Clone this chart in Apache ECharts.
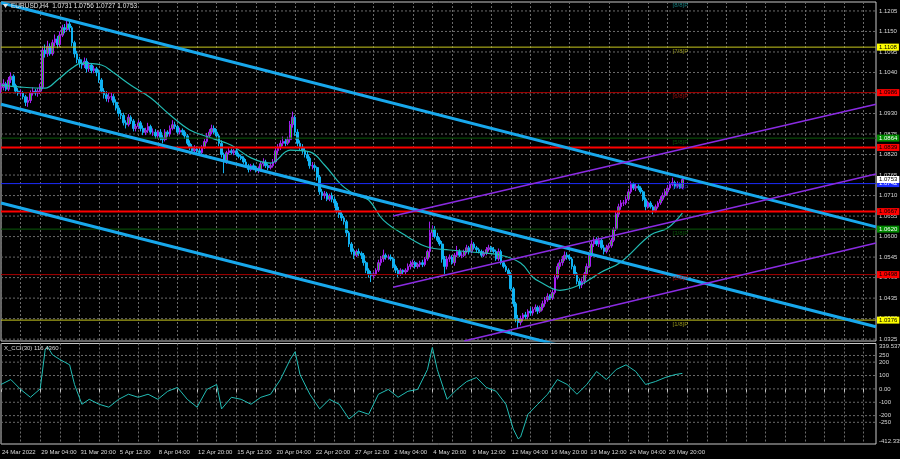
<!DOCTYPE html>
<html><head><meta charset="utf-8">
<script src="https://cdn.jsdelivr.net/npm/echarts/dist/echarts.min.js"></script>
<style>html,body{margin:0;padding:0;background:#000;}#c{width:900px;height:459px;}</style>
</head><body><div id="c"></div>
<script>
// ---- data (prices in 1/10000) ----
const tickLabels = ['24 Mar 2022','29 Mar 04:00','31 Mar 20:00','5 Apr 12:00','8 Apr 04:00','12 Apr 20:00','15 Apr 12:00','20 Apr 04:00','22 Apr 20:00','27 Apr 12:00','2 May 04:00','4 May 20:00','9 May 12:00','12 May 04:00','16 May 20:00','19 May 12:00','24 May 04:00','26 May 20:00'];
const firstOpen = 10995;
const closes = [
11000,11010,10995,
11020,11030,11005,10990,10985,10985,
10975,10960,10965,10985,10990,10985,
10990,11000,11100,11090,11110,11090,
11120,11130,11115,11140,11160,11155,
11170,11160,11120,11090,11075,11065,
11060,11070,11050,11060,11045,11050,
11040,11020,10990,10980,10970,10975,
10975,10960,10945,10930,10925,10905,
10900,10920,10910,10890,10895,10905,
10890,10880,10885,10895,10880,10880,
10870,10880,10865,10860,10880,10875,
10890,10900,10895,10880,10885,10880,
10870,10850,10840,10830,10835,10830,
10825,10840,10855,10870,10880,10890,
10880,10870,10850,10820,10800,10825,
10830,10825,10830,10820,10815,10810,
10800,10790,10780,10790,10785,10780,
10780,10795,10800,10790,10785,10790,
10800,10830,10840,10850,10855,10850,
10860,10900,10920,10880,10850,10840,
10830,10820,10810,10790,10790,10785,
10760,10720,10710,10715,10700,10710,
10700,10690,10670,10660,10650,10640,
10610,10580,10560,10550,10560,10555,
10550,10530,10510,10500,10495,10500,
10510,10530,10540,10550,10545,10545,
10540,10520,10510,10500,10510,10505,
10510,10520,10525,10530,10520,10525,
10530,10525,10540,10560,10610,10620,
10600,10590,10580,10540,10520,10540,
10545,10530,10550,10560,10550,10550,
10560,10570,10560,10580,10570,10565,
10560,10550,10555,10565,10570,10565,
10560,10540,10560,10530,10520,10510,
10500,10460,10420,10380,10370,10380,
10390,10385,10400,10395,10405,10410,
10400,10410,10420,10430,10440,10435,
10450,10490,10520,10530,10540,10550,
10545,10540,10520,10500,10480,10470,
10480,10500,10520,10550,10580,10590,
10580,10590,10570,10560,10570,10575,
10590,10620,10660,10680,10690,10690,
10700,10720,10740,10730,10735,10730,
10720,10700,10680,10690,10680,10670,
10680,10690,10700,10710,10720,10730,
10740,10745,10735,10740,10731,10753];
const highs = [
11012,11022,11015,
11028,11040,11035,11010,10998,10995,
10990,10980,10975,10992,11000,10996,
10998,11010,11110,11115,11125,11118,
11128,11142,11138,11150,11168,11170,
11180,11178,11165,11125,11098,11082,
11075,11080,11078,11068,11065,11058,
11055,11048,11025,10998,10990,10985,
10985,10982,10968,10952,10940,10932,
10912,10928,10925,10915,10902,10912,
10910,10898,10892,10905,10900,10890,
10888,10885,10888,10872,10888,10885,
10898,10912,10908,10900,10892,10890,
10885,10875,10858,10848,10845,10842,
10838,10845,10862,10878,10888,10900,
10898,10888,10875,10858,10825,10830,
10838,10836,10835,10835,10825,10820,
10815,10808,10795,10795,10796,10790,
10788,10802,10810,10806,10796,10798,
10808,10838,10848,10858,10868,10862,
10868,10910,10935,10925,10888,10858,
10848,10838,10828,10815,10800,10795,
10788,10765,10728,10722,10720,10715,
10718,10708,10695,10680,10668,10655,
10645,10615,10585,10568,10565,10568,
10560,10556,10535,10515,10508,10505,
10515,10538,10548,10565,10555,10552,
10552,10545,10525,10516,10515,10512,
10515,10528,10535,10538,10535,10530,
10535,10538,10545,10565,10640,10630,
10628,10610,10598,10588,10548,10548,
10552,10550,10556,10575,10566,10558,
10565,10578,10575,10590,10585,10575,
10570,10565,10562,10572,10578,10575,
10572,10565,10568,10565,10535,10525,
10515,10505,10465,10425,10390,10388,
10395,10398,10405,10410,10412,10418,
10415,10415,10428,10438,10448,10445,
10458,10498,10528,10538,10548,10560,
10558,10552,10545,10525,10505,10488,
10488,10505,10528,10558,10588,10598,
10598,10598,10596,10578,10578,10582,
10596,10625,10668,10688,10698,10698,
10708,10728,10748,10745,10742,10740,
10735,10725,10705,10696,10695,10685,
10686,10695,10708,10718,10728,10738,
10748,10758,10750,10748,10745,10756];
const lows = [
10985,10992,10990,
10990,11012,11000,10984,10978,10976,
10968,10950,10948,10958,10978,10978,
10975,10982,10995,11080,11082,11085,
11085,11110,11105,11108,11135,11145,
11150,11150,11110,11080,11065,11055,
11050,11052,11040,11042,11038,11038,
11030,11012,10985,10970,10962,10960,
10965,10952,10938,10922,10915,10898,
10890,10895,10902,10882,10882,10888,
10882,10872,10872,10878,10875,10870,
10862,10862,10858,10850,10855,10868,
10868,10885,10888,10875,10874,10872,
10862,10845,10832,10822,10825,10822,
10818,10818,10835,10850,10865,10874,
10875,10865,10842,10812,10770,10795,
10820,10820,10818,10815,10810,10805,
10795,10785,10772,10775,10778,10772,
10770,10774,10788,10784,10778,10780,
10785,10795,10822,10832,10842,10842,
10845,10852,10892,10870,10842,10832,
10822,10812,10802,10782,10780,10776,
10750,10712,10698,10702,10695,10695,
10692,10682,10662,10650,10642,10632,
10600,10572,10552,10540,10545,10548,
10540,10522,10502,10490,10478,10488,
10495,10505,10522,10532,10538,10538,
10535,10515,10502,10492,10495,10498,
10498,10505,10512,10518,10514,10514,
10518,10518,10520,10535,10545,10598,
10595,10585,10575,10530,10500,10512,
10532,10525,10522,10545,10545,10542,
10545,10555,10552,10555,10565,10558,
10555,10545,10545,10550,10560,10558,
10555,10535,10535,10525,10515,10505,
10495,10455,10412,10370,10355,10362,
10372,10378,10378,10388,10388,10398,
10392,10395,10402,10412,10425,10430,
10430,10445,10485,10512,10522,10535,
10538,10535,10512,10495,10472,10460,
10462,10472,10495,10515,10545,10572,
10575,10572,10565,10552,10555,10565,
10570,10585,10615,10652,10672,10682,
10685,10695,10715,10725,10722,10724,
10715,10695,10670,10675,10675,10660,
10665,10675,10685,10695,10705,10714,
10725,10735,10728,10730,10728,10727];
// moving average, read at selected bars [barIndex, price*1e4]
const maPoints = [[0,11006],[8,11001],[18,10998],[23,11020],[29,11052],[33,11065],[41,11060],[46,11039],[53,11006],[61,10972],[69,10926],[77,10886],[86,10864],[94,10845],[102,10811],[110,10797],[118,10832],[126,10827],[132,10792],[139,10738],[145,10711],[150,10698],[156,10644],[166,10599],[174,10572],[183,10564],[193,10558],[204,10550],[212,10529],[217,10491],[220,10478],[228,10456],[236,10470],[245,10505],[253,10532],[265,10604],[272,10623],[278,10663]];
// CCI(30) read at selected bars
const cciPoints = [[0,33],[4,70],[8,-4],[12,-63],[16,0],[18,290],[19,315],[21,255],[24,220],[28,180],[30,33],[33,-115],[36,-78],[40,-115],[44,-137],[48,-78],[52,-40],[56,-63],[60,-40],[64,-78],[68,-18],[72,11],[76,-78],[80,-137],[84,-4],[88,33],[90,-150],[94,-63],[98,-78],[102,-115],[106,-63],[110,-40],[114,70],[118,220],[120,278],[122,107],[126,-40],[130,-150],[134,-78],[138,-115],[142,-225],[146,-165],[150,-190],[154,-40],[158,-4],[162,-63],[166,-18],[170,-4],[174,145],[176,310],[178,145],[182,-78],[186,-4],[190,55],[194,85],[198,11],[202,-18],[206,-115],[209,-300],[211,-374],[212,-360],[215,-190],[219,-115],[223,-40],[227,70],[231,33],[235,-40],[239,33],[243,130],[247,70],[251,145],[255,180],[259,130],[263,33],[267,55],[271,85],[275,107],[278,116]];
// channel lines: [startBar, startPrice, endBar, endPrice]
const blueChannels = [[0,11227,357,10626],[0,10955,357,10358],[0,10690,357,10092]];
const purpleChannels = [[160,10655,357,10955],[160,10464,357,10768],[189,10320,357,10583]];
const priceTicks = [11205,11150,11095,11040,10985,10930,10875,10820,10765,10710,10655,10600,10545,10490,10435,10380,10325];
const murrey = [['[8/8]P',11230,'#1a9a9a',null],['[7/8]P',11108,'#b4b41e','#c8c81e'],['[6/8]P',10986,'#b41010','#a80000'],['[5/8]P',10864,'#0a6a0a','#0a5a0a'],['[4/8]P',10742,'#2030d0','#1c2cff'],['[3/8]P',10620,'#0a6a0a','#0a5a0a'],['[2/8]P',10498,'#c01010','#a80000'],['[1/8]P',10376,'#b4b41e','#c8c81e']];
const srLevels = [10839,10667];
const priceTags = [[11108,'#ffff00','#000'],[10986,'#ff0000','#000'],[10864,'#008a00','#fff'],[10839,'#ff0000','#000'],[10667,'#ff0000','#000'],[10620,'#008a00','#fff'],[10498,'#ff0000','#000'],[10376,'#ffff00','#000'],[10742,'#1c2cff','#fff'],[10753,'#ffffff','#000']];
const cciTicks = [250,200,100,0,-100,-200,-250];
const cciMin = -412.335, cciMax = 339.5378;

// ---- chart ----
const N = 358, LAST = N-1;
const cats = Array.from({length:N},(_,i)=>String(i));
const P = v => v/10000;
const FONT = 'Liberation Sans';
const chart = echarts.init(document.getElementById('c'), null, {renderer:'canvas'});
const opens = [firstOpen].concat(closes.slice(0,-1));
const candleData = closes.map((c,i)=>[P(opens[i]),P(c),P(lows[i]),P(highs[i])]);
const gridLineStyle = {color:'#6a6a6a',type:[2,2],width:1};
const labelBase = {fontSize:6,fontFamily:FONT};

function hline(axis, y, lineStyle, z, label){
  const s = {type:'line',xAxisIndex:axis,yAxisIndex:axis,data:[[0,y],[LAST,y]],symbol:'none',showSymbol:false,
    lineStyle:lineStyle,z:z,silent:true,animation:false,clip:false};
  if(label){ s.endLabel = Object.assign({show:true,distance:3},labelBase,label); }
  return s;
}
const series = [];
// price grid lines + labels
priceTicks.forEach(v=>series.push(hline(0,P(v),gridLineStyle,0,{formatter:P(v).toFixed(4),color:'#d8d8d8'})));
// candles
series.push({type:'candlestick',xAxisIndex:0,yAxisIndex:0,data:candleData,barWidth:2.2,z:3,silent:true,
  itemStyle:{color:'#22c422',color0:'#10b2f2',borderColor:'#a41ef0',borderColor0:'#10b2f2',borderWidth:1}});
// moving average
series.push({type:'line',xAxisIndex:0,yAxisIndex:0,data:maPoints.map(p=>[p[0],P(p[1])]),smooth:0.4,symbol:'none',lineStyle:{color:'#22bcb4',width:1.2},z:4,silent:true});
// level lines
murrey.forEach(m=>{ if(m[3]) series.push(hline(0,P(m[1]),{color:m[3],width:1},5,null)); });
srLevels.forEach(v=>series.push(hline(0,P(v),{color:'#ff0000',width:2},5,null)));
// channels
blueChannels.forEach(c=>series.push({type:'line',xAxisIndex:0,yAxisIndex:0,data:[[c[0],P(c[1])],[c[2],P(c[3])]],symbol:'none',lineStyle:{color:'#18a8ec',width:3},z:6,silent:true}));
purpleChannels.forEach(c=>series.push({type:'line',xAxisIndex:0,yAxisIndex:0,data:[[c[0],P(c[1])],[c[2],P(c[3])]],symbol:'none',lineStyle:{color:'#8a2be2',width:1.6},z:6,silent:true}));
// price tags on the right scale
priceTags.forEach(t=>series.push(hline(0,P(t[0]),{color:'rgba(0,0,0,0)',width:0},8,{formatter:P(t[0]).toFixed(4),color:t[2],backgroundColor:t[1],padding:[1,2,0,2],distance:1})));
// Murrey labels
series.push({type:'scatter',xAxisIndex:0,yAxisIndex:0,symbolSize:0,z:8,silent:true,clip:false,
  data:murrey.map(m=>({value:[274,P(m[1])],label:{show:true,formatter:m[0],color:m[2],position:[0,1],align:'left',verticalAlign:'top',fontSize:6,fontFamily:FONT}}))});
// CCI panel
cciTicks.forEach(v=>series.push(hline(1,v,gridLineStyle,0,{formatter:v===0?'0.00':String(v),color:'#d8d8d8'})));
series.push(hline(1,cciMax,{color:'rgba(0,0,0,0)',width:0},1,{formatter:String(cciMax),color:'#d8d8d8',offset:[0,3]}));
series.push(hline(1,cciMin,{color:'rgba(0,0,0,0)',width:0},1,{formatter:String(cciMin),color:'#d8d8d8',offset:[0,-3]}));
series.push({type:'line',xAxisIndex:1,yAxisIndex:1,data:cciPoints,symbol:'none',lineStyle:{color:'#22bcb4',width:1},z:4,silent:true});

const option = {
  backgroundColor:'#000',
  animation:false,
  grid:[
    {left:1,top:2,width:875,height:339,show:true,borderColor:'#c8c8c8',borderWidth:1,backgroundColor:'transparent',containLabel:false,outerBoundsMode:'none'},
    {left:1,top:343.5,width:875,height:100.5,show:true,borderColor:'#c8c8c8',borderWidth:1,backgroundColor:'transparent',containLabel:false,outerBoundsMode:'none'}
  ],
  xAxis:[
    {type:'category',gridIndex:0,data:cats,boundaryGap:false,axisLine:{show:false},axisTick:{show:false},axisLabel:{show:false},splitLine:{show:true,interval:(i)=>i%8===0,lineStyle:gridLineStyle}},
    {type:'category',gridIndex:1,data:cats,boundaryGap:false,axisLine:{show:false},
     axisTick:{show:true,interval:(i)=>i%8===0,length:3,lineStyle:{color:'#c8c8c8'}},
     axisLabel:{show:true,interval:(i)=>i%16===0 && i/16<tickLabels.length,formatter:(v,i)=>tickLabels[Math.round(i/16)]||'',align:'left',margin:5,padding:[0,0,0,1],color:'#d8d8d8',fontSize:6,fontFamily:FONT},
     splitLine:{show:true,interval:(i)=>i%8===0,lineStyle:gridLineStyle}}
  ],
  yAxis:[
    {type:'value',gridIndex:0,min:1.0320,max:1.1229,show:false,splitLine:{show:false}},
    {type:'value',gridIndex:1,min:cciMin,max:cciMax,show:false,splitLine:{show:false}}
  ],
  series:series,
  graphic:[
    {type:'polygon',shape:{points:[[3,4],[8,4],[5.5,8]]},style:{fill:'#e0e0e0'},z:100},
    {type:'text',left:11,top:3,style:{text:'EURUSD,H4  1.0731 1.0756 1.0727 1.0753',fill:'#e0e0e0',fontSize:6.5,fontFamily:FONT},z:100},
    {type:'text',left:4,top:345,style:{text:'X_CCI(30) 116.4360',fill:'#d8d8d8',fontSize:6,fontFamily:FONT},z:100}
  ]
};
chart.setOption(option);
</script></body></html>
